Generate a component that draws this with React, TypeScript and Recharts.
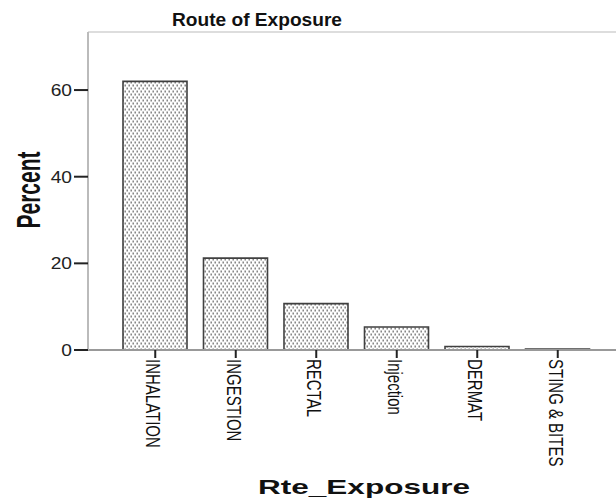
import React from 'react';
import { BarChart, Bar, XAxis, YAxis, ReferenceLine } from 'recharts';

const categories = ['INHALATION', 'INGESTION', 'RECTAL', 'Injection', 'DERMAT', 'STING & BITES'];
const percents = [62.0, 21.2, 10.7, 5.3, 0.8, 0.2];
const yTicks = [0, 20, 40, 60];
const yMax = 73.4;

const data = categories.map((name, i) => ({ name, value: percents[i] }));

const font = '"Liberation Sans", Arial, sans-serif';

const YTick = ({ y, payload }: any) => (
  <text
    x={0}
    y={0}
    transform={`translate(72, ${y + 6}) scale(1.2, 1)`}
    textAnchor="end"
    fontFamily={font}
    fontSize={16}
    fill="#222"
  >
    {payload.value}
  </text>
);

const XTick = ({ x, y, payload }: any) => (
  <text
    x={0}
    y={0}
    dy={5.5}
    transform={`translate(${x - 2}, ${y - 1}) scale(1.3, 1) rotate(90)`}
    textAnchor="start"
    fontFamily={font}
    fontSize={15}
    fill="#111"
  >
    {payload.value}
  </text>
);

export default function App() {
  return (
    <div style={{ position: 'absolute', left: 0, top: 0, width: 616, height: 499, background: '#fff' }}>
      <BarChart
        width={616}
        height={499}
        data={data}
        margin={{ top: 32, right: 0, left: 0, bottom: 0 }}
      >
        <defs>
          <pattern id="dots" patternUnits="userSpaceOnUse" width="4" height="6">
            <rect x="0" y="0" width="4" height="6" fill="#fff" />
            <rect x="0.5" y="0.5" width="1.4" height="2" fill="#7a7a7a" />
            <rect x="2.5" y="3.5" width="1.4" height="2" fill="#7a7a7a" />
          </pattern>
        </defs>
        <XAxis
          dataKey="name"
          height={149}
          padding={{ left: 27, right: 18 }}
          interval={0}
          tickSize={8}
          tickLine={{ stroke: '#222', strokeWidth: 2 }}
          axisLine={{ stroke: '#999', strokeWidth: 2 }}
          tick={<XTick />}
        />
        <YAxis
          width={88}
          domain={[0, yMax]}
          ticks={yTicks}
          tickSize={14}
          tickLine={{ stroke: '#222', strokeWidth: 2 }}
          axisLine={{ stroke: '#bbb', strokeWidth: 2 }}
          tick={<YTick />}
        />
        <ReferenceLine y={yMax} stroke="#ddd" strokeWidth={2} />
        <Bar
          dataKey="value"
          fill="url(#dots)"
          stroke="#404040"
          strokeWidth={1.6}
          barSize={64}
          isAnimationActive={false}
        />
      </BarChart>
      <svg
        width={616}
        height={499}
        style={{ position: 'absolute', left: 0, top: 0, pointerEvents: 'none' }}
      >
        <text
          x={172}
          y={26}
          textLength={170}
          lengthAdjust="spacingAndGlyphs"
          fontFamily={font}
          fontWeight="bold"
          fontSize={17.5}
          fill="#111"
        >
          Route of Exposure
        </text>
        <text
          x={0}
          y={0}
          transform="translate(40, 190) scale(1.6, 1) rotate(-90)"
          textAnchor="middle"
          fontFamily={font}
          fontWeight="bold"
          fontSize={21}
          fill="#111"
        >
          Percent
        </text>
        <text
          x={258}
          y={494}
          textLength={212}
          lengthAdjust="spacingAndGlyphs"
          fontFamily={font}
          fontWeight="bold"
          fontSize={21}
          fill="#111"
        >
          Rte_Exposure
        </text>
      </svg>
    </div>
  );
}
